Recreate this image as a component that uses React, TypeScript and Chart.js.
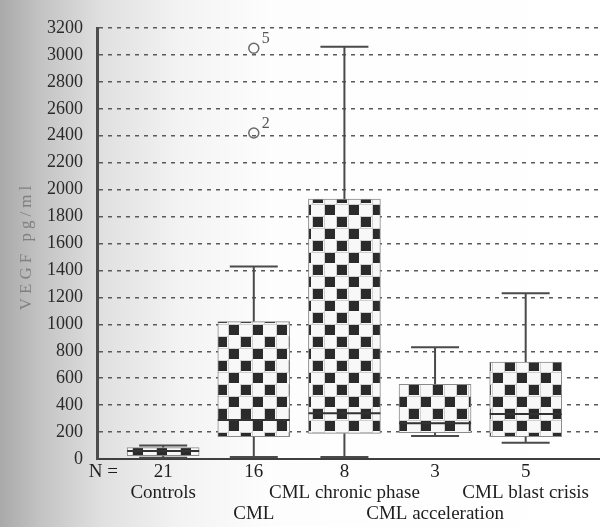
import React, { useEffect, useRef } from "react";
import { Chart, registerables } from "chart.js";

Chart.register(...registerables);

const groups = ["Controls", "CML", "CML chronic phase", "CML acceleration", "CML blast crisis"];
const nValues = ["21", "16", "8", "3", "5"];
const whiskerLow = [10, 15, 15, 170, 120];
const q1 = [25, 165, 190, 195, 165];
const medians = [60, 290, 340, 265, 335];
const q3 = [85, 1020, 1930, 555, 720];
const whiskerHigh = [100, 1430, 3060, 830, 1230];
const outlierGroup = [2, 2];
const outlierValues = [2420, 3050];
const outlierLabels = ["2", "5"];
const yTickValues = [0, 200, 400, 600, 800, 1000, 1200, 1400, 1600, 1800, 2000, 2200, 2400, 2600, 2800, 3000, 3200];
const xTickPositions = [0.34, 1, 2, 3, 4, 5];
const xTickLabels: string[][] = [
  ["N ="],
  [nValues[0], groups[0]],
  [nValues[1], "", groups[1]],
  [nValues[2], groups[2]],
  [nValues[3], "", groups[3]],
  [nValues[4], groups[4]],
];
const yTitle = "VEGF pg/ml";

const SERIF = "'Liberation Serif', 'Times New Roman', serif";

function makePattern(): CanvasPattern | string {
  const c = document.createElement("canvas");
  c.width = 24;
  c.height = 24;
  const g = c.getContext("2d");
  if (!g) return "#888";
  g.fillStyle = "#f8f8f8";
  g.fillRect(0, 0, 24, 24);
  g.strokeStyle = "#cfcfcf";
  g.lineWidth = 1;
  g.strokeRect(0.5, 0.5, 12, 12);
  g.strokeRect(12.5, 12.5, 12, 12);
  g.fillStyle = "#2b2b2b";
  g.fillRect(1, 1, 10, 10);
  g.fillRect(13, 13, 10, 10);
  return g.createPattern(c, "repeat") || "#888";
}

const BOX_W = 72;
const CAP_W = 48;

const bgPlugin = {
  id: "scanBg",
  beforeDraw(chart: any) {
    const { ctx, width, height } = chart;
    ctx.save();
    const grad = ctx.createLinearGradient(0, 0, width, 0);
    grad.addColorStop(0, "#a9a9a9");
    grad.addColorStop(0.07, "#c4c4c4");
    grad.addColorStop(0.17, "#e0e0e0");
    grad.addColorStop(0.3, "#f3f3f3");
    grad.addColorStop(0.45, "#fdfdfd");
    grad.addColorStop(1, "#ffffff");
    ctx.fillStyle = grad;
    ctx.fillRect(0, 0, width, height);
    ctx.restore();
  },
};

const boxPlugin = {
  id: "boxExtras",
  afterDatasetsDraw(chart: any) {
    const { ctx } = chart;
    const xs = chart.scales.x;
    const ys = chart.scales.y;
    ctx.save();
    ctx.lineWidth = 2;
    groups.forEach((_, i) => {
      const x = xs.getPixelForValue(i + 1);
      const yLo = ys.getPixelForValue(whiskerLow[i]);
      const yQ1 = ys.getPixelForValue(q1[i]);
      const yQ3 = ys.getPixelForValue(q3[i]);
      const yHi = ys.getPixelForValue(whiskerHigh[i]);
      const yMed = ys.getPixelForValue(medians[i]);
      ctx.strokeStyle = "#4a4a4a";
      ctx.beginPath();
      ctx.moveTo(x, yQ3);
      ctx.lineTo(x, yHi);
      ctx.moveTo(x - CAP_W / 2, yHi);
      ctx.lineTo(x + CAP_W / 2, yHi);
      ctx.moveTo(x, yQ1);
      ctx.lineTo(x, yLo);
      ctx.moveTo(x - CAP_W / 2, yLo);
      ctx.lineTo(x + CAP_W / 2, yLo);
      ctx.stroke();
      ctx.strokeStyle = "#333";
      ctx.beginPath();
      ctx.moveTo(x - BOX_W / 2, yMed);
      ctx.lineTo(x + BOX_W / 2, yMed);
      ctx.stroke();
    });
    ctx.fillStyle = "#555";
    ctx.font = `16px ${SERIF}`;
    ctx.textAlign = "left";
    ctx.textBaseline = "middle";
    outlierValues.forEach((v, k) => {
      const x = xs.getPixelForValue(outlierGroup[k]);
      const y = ys.getPixelForValue(v);
      ctx.fillText(outlierLabels[k], x + 8, y - 9);
    });
    ctx.save();
    ctx.translate(27, 246);
    ctx.rotate(-Math.PI / 2);
    ctx.fillStyle = "#808080";
    ctx.font = `17px ${SERIF}`;
    ctx.textAlign = "center";
    ctx.textBaseline = "middle";
    try {
      (ctx as any).letterSpacing = "4px";
    } catch (e) {}
    ctx.fillText(yTitle, 0, 0);
    ctx.restore();
    ctx.restore();
  },
};

export default function App() {
  const ref = useRef<HTMLCanvasElement | null>(null);
  useEffect(() => {
    document.body.style.margin = "0";
    if (!ref.current) return;
    const pattern = makePattern();
    const chart = new Chart(ref.current, {
      type: "bar",
      data: {
        datasets: [
          {
            type: "bar",
            data: groups.map((_, i) => ({ x: i + 1, y: [q1[i], q3[i]] })) as any,
            backgroundColor: pattern as any,
            borderColor: "#8a8a8a",
            borderWidth: 1,
            borderSkipped: false,
            barThickness: BOX_W,
          },
          {
            type: "scatter",
            data: outlierValues.map((v, k) => ({ x: outlierGroup[k], y: v })),
            pointRadius: 5,
            pointStyle: "circle",
            borderColor: "#6a6a6a",
            backgroundColor: "rgba(0,0,0,0)",
            borderWidth: 1.5,
          } as any,
        ],
      },
      options: {
        animation: false,
        responsive: false,
        maintainAspectRatio: false,
        layout: { autoPadding: false, padding: { top: 28, right: 0, bottom: 0, left: 0 } },
        plugins: { legend: { display: false }, tooltip: { enabled: false } },
        scales: {
          x: {
            type: "linear",
            position: "bottom",
            offset: false,
            min: 0.27,
            max: 5.82,
            afterBuildTicks: (scale: any) => {
              scale.ticks = xTickPositions.map((v) => ({ value: v }));
            },
            afterFit: (scale: any) => {
              scale.height = 68;
              scale.paddingRight = 0;
              scale.paddingLeft = 0;
            },
            grid: { display: false, drawTicks: false, offset: false },
            border: { display: true, color: "#3f3f3f", width: 2 },
            ticks: {
              autoSkip: false,
              maxRotation: 0,
              minRotation: 0,
              padding: 3,
              color: "#1e1e1e",
              font: { family: SERIF, size: 19, lineHeight: 1.1 },
              callback: (_v: any, index: number) => xTickLabels[index],
            },
          },
          y: {
            type: "linear",
            min: 0,
            max: 3200,
            afterBuildTicks: (scale: any) => {
              scale.ticks = yTickValues.map((v) => ({ value: v }));
            },
            afterFit: (scale: any) => {
              scale.width = 97;
            },
            grid: {
              drawTicks: false,
              lineWidth: 1.5,
              color: (ctx: any) => (ctx.tick && ctx.tick.value === 0 ? "rgba(0,0,0,0)" : "#5a5a5a"),
            },
            border: { display: true, color: "#4d4d4d", width: 3, dash: [4, 5] },
            ticks: {
              padding: 14,
              color: "#2a2a2a",
              font: { family: SERIF, size: 18 },
              callback: (v: any) => String(v),
            },
          },
        },
      },
      plugins: [bgPlugin, boxPlugin],
    });
    return () => chart.destroy();
  }, []);
  return (
    <div style={{ width: 600, height: 527 }}>
      <canvas ref={ref} width={600} height={527} style={{ display: "block" }} />
    </div>
  );
}
